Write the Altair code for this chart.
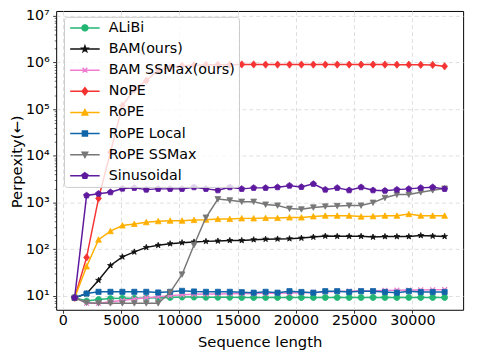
import math
import altair as alt
import pandas as pd

# ---------------- data ----------------
SEQ = [1024, 2048, 3072, 4096, 5120, 6144, 7168, 8192, 9216, 10240, 11264, 12288,
       13312, 14336, 15360, 16384, 17408, 18432, 19456, 20480, 21504, 22528, 23552,
       24576, 25600, 26624, 27648, 28672, 29696, 30720, 31744, 32768]

SERIES = ["ALiBi", "BAM(ours)", "BAM SSMax(ours)", "NoPE", "RoPE",
          "RoPE Local", "RoPE SSMax", "Sinusoidal"]
COLORS = ["#22b573", "#111111", "#f07ccf", "#f53333", "#ffb000",
          "#1064a8", "#777777", "#5e1a9e"]

ALIBI = [9.2, 7.8, 8.4, 8.8, 9.0, 9.0, 9.1, 9.2, 9.3, 9.5, 9.5, 9.4, 9.4, 9.4, 9.3, 9.3,
         9.3, 9.3, 9.3, 9.3, 9.3, 9.3, 9.3, 9.3, 9.3, 9.3, 9.3, 9.3, 9.3, 9.3, 9.3, 9.3]
BAM = [9.2, 11.2, 21.7, 45, 69, 88, 110, 122, 132, 139, 144, 148, 151, 155, 155, 161,
       165, 167, 169, 174, 183, 192, 190, 190, 190, 183, 188, 188, 188, 198, 192, 189]
BAM_SSMAX = [9.2, 7.0, 7.0, 7.5, 8.0, 8.6, 9.2, 9.6, 10.2, 10.6, 10.9, 11.0, 11.1, 11.2,
             11.3, 11.3, 11.4, 11.5, 11.6, 11.7, 11.9, 12.2, 12.5, 12.7, 12.9, 13.0,
             13.2, 13.3, 13.4, 13.5, 13.6, 13.7]
NOPE = [9.2, 67, 1230, 12000, 120000, 260000, 410000, 690000, 790000, 850000, 880000,
        890000, 900000, 900000, 910000, 910000, 905000, 905000, 905000, 905000, 905000,
        905000, 905000, 905000, 905000, 905000, 905000, 900000, 900000, 895000, 890000,
        830000]
ROPE = [9.2, 43, 161, 245, 324, 350, 380, 400, 410, 410, 424, 430, 445, 445, 460, 460,
        468, 468, 480, 480, 507, 525, 525, 525, 502, 510, 525, 525, 568, 525, 525, 525]
ROPE_LOCAL = [9.2, 11.3, 12.3, 12.3, 12.3, 12.3, 12.3, 11.9, 12.3, 12.9, 12.5, 12.3,
              12.3, 12.3, 12.1, 11.8, 12.3, 11.8, 12.7, 12.2, 11.8, 12.7, 12.7, 12.2,
              12.7, 12.7, 12.2, 11.8, 12.7, 12.2, 12.2, 12.2]
ROPE_SSMAX = [9.2, 7.2, 7.0, 7.0, 7.0, 7.0, 7.0, 7.0, 12, 29, 124, 480, 1190, 1120,
              1050, 1050, 910, 870, 745, 720, 790, 830, 850, 870, 870, 1000, 1270,
              1490, 1490, 1670, 1840, 2000]
SINUSOIDAL = [9.2, 1425, 1550, 1670, 2000, 2070, 1900, 1970, 1970, 1970, 2140, 1970,
              1840, 2140, 1970, 2070, 2070, 2140, 2310, 2170, 2520, 1900, 2070, 1840,
              2140, 1840, 1800, 1900, 1970, 2070, 2140, 1970]

VALUES = [ALIBI, BAM, BAM_SSMAX, NOPE, ROPE, ROPE_LOCAL, ROPE_SSMAX, SINUSOIDAL]

X_TICKS = [0, 5000, 10000, 15000, 20000, 25000, 30000]
Y_TICKS = [10, 100, 1000, 10000, 100000, 1000000, 10000000]

rows = []
for name, vals in zip(SERIES, VALUES):
    for s, v in zip(SEQ, vals):
        rows.append({"series": name, "seq": s, "ppl": v})
df = pd.DataFrame(rows)

# minor ticks of log axis
Y_MINOR = [m * 10 ** d for d in range(0, 7) for m in range(2, 10)]
Y_MINOR = [v for v in Y_MINOR if 5.1 < v < 1.29e7]

# ---------------- marker shapes ----------------
def poly(n, r=1.0, rot=-90.0):
    return [(r * math.cos(math.radians(rot + 360.0 * i / n)),
             r * math.sin(math.radians(rot + 360.0 * i / n))) for i in range(n)]

def star(r=1.0, ri=0.42):
    pts = []
    for i in range(10):
        rr = r if i % 2 == 0 else ri
        a = math.radians(-90 + 36 * i)
        pts.append((rr * math.cos(a), rr * math.sin(a)))
    return pts

def to_path(subpaths, scale=1.0, dx=0.0, dy=0.0):
    out = ""
    for pts, closed in subpaths:
        seg = "M" + "L".join(f"{x*scale+dx:.3f},{y*scale+dy:.3f}" for x, y in pts)
        out += seg + ("Z" if closed else "")
    return out

MARKERS = [
    [(poly(24, 1.0), True)],                                      # circle
    [(star(1.0, 0.4), True)],                                     # star
    [([(-0.8, -0.8), (0.8, 0.8)], False), ([(-0.8, 0.8), (0.8, -0.8)], False)],  # x
    [([(0, -1.2), (0.95, 0), (0, 1.2), (-0.95, 0)], True)],       # diamond
    [([(0, -0.95), (0.95, 0.85), (-0.95, 0.85)], True)],          # triangle up
    [([(-0.85, -0.85), (0.85, -0.85), (0.85, 0.85), (-0.85, 0.85)], True)],  # square
    [([(0, 0.95), (0.95, -0.85), (-0.95, -0.85)], True)],         # triangle down
    [(poly(5, 1.05), True)],                                      # pentagon
]
PLOT_PATHS = [to_path(m) for m in MARKERS]
LEGEND_PATHS = ["M-1,0L5,0" + to_path(m, 0.6, 2.0, 0.0) for m in MARKERS]

# ---------------- encodings ----------------
X_SCALE = alt.Scale(domain=[-563, 34355], nice=False, zero=False)
Y_SCALE = alt.Scale(type="log", domain=[10 ** 0.705, 10 ** 7.105], nice=False)

x_axis = alt.Axis(values=X_TICKS, format="d", title="Sequence length", grid=True,
                  orient="bottom", tickSize=3.5, labelPadding=0.5,
                  titleY=37, titleBaseline="alphabetic")
y_axis = alt.Axis(values=Y_TICKS, grid=True, title="Perpexity(←)", orient="left",
                  labelExpr="'10' + ['⁰','¹','²','³','⁴','⁵','⁶','⁷'][round(log(datum.value)/LN10)]",
                  tickSize=3.5, labelPadding=3.5, titleX=-40, titleY=153,
                  titleBaseline="middle")
y_minor_axis = alt.Axis(values=Y_MINOR, grid=False, labels=False, title=None,
                        orient="left", tickSize=2, domain=False, tickWidth=0.6)

base = alt.Chart(df)

layers = []
for i, (name, col) in enumerate(zip(SERIES, COLORS)):
    sub = base.transform_filter(alt.datum.series == name)
    xa = x_axis if i == 0 else None
    ya = y_axis if i == 0 else None
    line = sub.mark_line(color=col, strokeWidth=1.5).encode(
        x=alt.X("seq:Q", scale=X_SCALE, axis=xa),
        y=alt.Y("ppl:Q", scale=Y_SCALE, axis=ya),
        order="seq:Q",
    )
    ya2 = y_minor_axis if i == 0 else None
    if name == "BAM SSMax(ours)":
        pm = sub.mark_point(shape=PLOT_PATHS[i], filled=False, stroke=col,
                            strokeWidth=1.3, size=38, opacity=1)
    else:
        pm = sub.mark_point(shape=PLOT_PATHS[i], filled=True, fill=col, stroke=col,
                            strokeWidth=0.8, size=38, opacity=1)
    pts = pm.encode(
        x=alt.X("seq:Q", scale=X_SCALE, axis=None),
        y=alt.Y("ppl:Q", scale=Y_SCALE, axis=ya2),
    )
    layers += [line, pts]

leg = alt.Legend(title=None, orient="none", legendX=8, legendY=6, padding=4,
                 labelFont="DejaVu Sans", labelFontSize=14.5, labelColor="black",
                 labelOffset=27, symbolSize=100, symbolStrokeWidth=1.5,
                 rowPadding=6.5, fillColor="rgba(255,255,255,0.8)",
                 strokeColor="#cccccc", cornerRadius=3, symbolOpacity=1)

legend_layer = base.transform_filter("false").mark_point(filled=True).encode(
    x=alt.X("seq:Q", scale=X_SCALE, axis=None),
    y=alt.Y("ppl:Q", scale=Y_SCALE, axis=None),
    fill=alt.Fill("series:N", scale=alt.Scale(domain=SERIES, range=COLORS), legend=leg),
    stroke=alt.Stroke("series:N", scale=alt.Scale(domain=SERIES, range=COLORS), legend=leg),
    shape=alt.Shape("series:N", scale=alt.Scale(domain=SERIES, range=LEGEND_PATHS), legend=leg),
)
layers.append(legend_layer)

chart = (
    alt.layer(*layers)
    .resolve_axis(x="independent", y="independent")
    .properties(width=414, height=304,
                padding={"left": 49, "top": 0, "right": 7, "bottom": 44},
                autosize=alt.AutoSizeParams(type="none"))
    .configure(font="DejaVu Sans")
    .configure_view(stroke="black", strokeWidth=1)
    .configure_axis(labelFont="DejaVu Sans", labelFontSize=14.5, labelColor="black",
                    titleFont="DejaVu Sans", titleFontSize=15, titleFontWeight="normal",
                    titleColor="black", tickColor="black", tickWidth=0.8,
                    domain=False, gridColor="#d6d6d6", gridDash=[4, 3], gridWidth=0.8,
                    labelFlush=False)
)

chart.save("out.html", embed_options={"renderer": "svg", "actions": False})
